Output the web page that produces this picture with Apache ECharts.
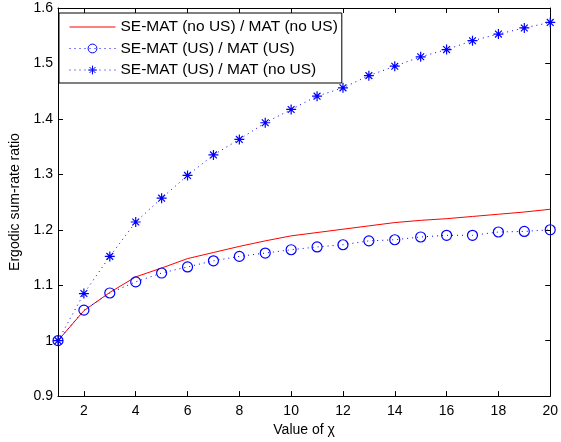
<!DOCTYPE html>
<html>
<head>
<meta charset="utf-8">
<script src="https://cdn.jsdelivr.net/npm/echarts@6/dist/echarts.min.js"></script>
<style>html,body{margin:0;padding:0;background:#fff;}#c{width:561px;height:442px;}</style>
</head>
<body>
<div id="c"></div>
<script>
const chi = [1,2,3,4,5,6,7,8,9,10,11,12,13,14,15,16,17,18,19,20];
const ratioNoUS = [1.000,1.054,1.087,1.115,1.131,1.148,1.159,1.170,1.180,1.189,1.195,1.201,1.207,1.213,1.217,1.220,1.224,1.228,1.232,1.237];
const ratioUS = [1.000,1.055,1.086,1.106,1.122,1.133,1.144,1.152,1.158,1.164,1.169,1.173,1.180,1.182,1.187,1.190,1.190,1.196,1.197,1.200];
const ratioUSnoUS = [1.000,1.085,1.152,1.214,1.257,1.298,1.335,1.363,1.393,1.417,1.441,1.456,1.478,1.495,1.512,1.525,1.541,1.553,1.564,1.574];
const xTicks = [2,4,6,8,10,12,14,16,18,20];
const seriesNames = ['SE-MAT (no US) / MAT (no US)','SE-MAT (US) / MAT (US)','SE-MAT (US) / MAT (no US)'];

const pairs = ys => chi.map((x,i)=>[x, ys[i]]);
const font = 'Liberation Sans, Arial, Helvetica, sans-serif';
const star = 'path://M5 0L5 10M0 5L10 5M1.6 1.6L8.4 8.4M8.4 1.6L1.6 8.4';

const chart = echarts.init(document.getElementById('c'), null, {renderer:'canvas'});
const axisCommon = {
  axisLine:{show:true, onZero:false, lineStyle:{color:'#000', width:1}},
  axisTick:{show:true, inside:true, length:5, lineStyle:{color:'#000', width:1}},
  splitLine:{show:false}
};
chart.setOption({
  animation:false,
  backgroundColor:'#fff',
  textStyle:{fontFamily:font},
  grid:{left:56, right:10, top:8, bottom:45, containLabel:false},
  legend:{
    orient:'vertical', left:59, top:13,
    backgroundColor:'#fff', borderColor:'#000', borderWidth:1, borderRadius:0,
    padding:[6,4,5,10], itemWidth:46, itemHeight:11, itemGap:5.5,
    lineStyle:{width:1},
    textStyle:{fontFamily:font, fontSize:15.5, color:'#000'},
    data:[
      {name:seriesNames[0], itemStyle:{color:'rgba(0,0,0,0)', borderColor:'rgba(0,0,0,0)', borderWidth:0},
       lineStyle:{color:'#ff0000', width:1, type:'solid'}},
      {name:seriesNames[1], itemStyle:{borderWidth:1}},
      {name:seriesNames[2], itemStyle:{borderWidth:1}}
    ]
  },
  xAxis:[
    Object.assign({}, axisCommon, {
      type:'value', min:1, max:20, position:'bottom',
      axisTick:Object.assign({}, axisCommon.axisTick, {customValues:xTicks}),
      axisLabel:{color:'#000', fontSize:14, fontFamily:font, margin:8, customValues:xTicks},
      name:'Value of χ', nameLocation:'middle', nameGap:26,
      nameTextStyle:{color:'#000', fontSize:14, fontFamily:font}
    }),
    Object.assign({}, axisCommon, {
      type:'value', min:1, max:20, position:'top',
      axisTick:Object.assign({}, axisCommon.axisTick, {customValues:xTicks}),
      axisLabel:{show:false, customValues:xTicks}
    })
  ],
  yAxis:[
    Object.assign({}, axisCommon, {
      type:'value', min:0.9, max:1.6, interval:0.1, position:'left',
      axisLabel:{color:'#000', fontSize:14, fontFamily:font, margin:5,
        formatter: v => String(+v.toFixed(1))},
      name:'Ergodic sum-rate ratio', nameLocation:'middle', nameGap:36,
      nameTextStyle:{color:'#000', fontSize:14, fontFamily:font}
    }),
    Object.assign({}, axisCommon, {
      type:'value', min:0.9, max:1.6, interval:0.1, position:'right',
      axisLabel:{show:false}
    })
  ],
  series:[
    {
      name:seriesNames[0], type:'line', data:pairs(ratioNoUS),
      showSymbol:false, symbol:'none', clip:false,
      lineStyle:{color:'#ff0000', width:1, type:'solid'},
      itemStyle:{color:'#ff0000'}, z:2
    },
    {
      name:seriesNames[1], type:'line', data:pairs(ratioUS), clip:false,
      symbol:'circle', symbolSize:10,
      lineStyle:{color:'#0000ff', width:1, type:[1,4]},
      itemStyle:{color:'rgba(0,0,0,0)', borderColor:'#0000ff', borderWidth:1.2}, z:3
    },
    {
      name:seriesNames[2], type:'line', data:pairs(ratioUSnoUS), clip:false,
      symbol:star, symbolSize:10,
      lineStyle:{color:'#0000ff', width:1, type:[1,4]},
      itemStyle:{color:'#0000ff', borderColor:'#0000ff', borderWidth:1.2}, z:3
    }
  ]
});
</script>
</body>
</html>
